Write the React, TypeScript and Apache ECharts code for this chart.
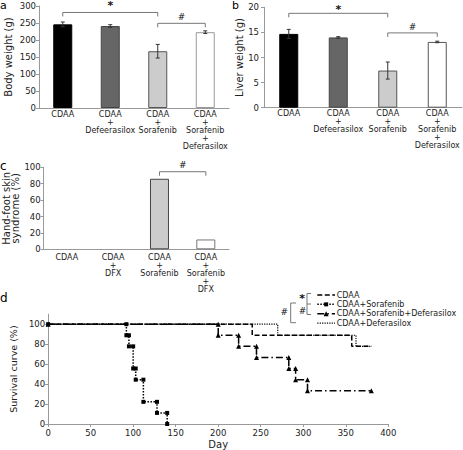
import React, { useEffect, useRef } from "react";
import * as echarts from "echarts";

// ---- data ----
const groupsAB = ["CDAA", "CDAA\n+\nDefeerasilox", "CDAA\n+\nSorafenib", "CDAA\n+\nSorafenib\n+\nDeferasilox"];
const groupsC = ["CDAA", "CDAA\n+\nDFX", "CDAA\n+\nSorafenib", "CDAA\n+\nSorafenib\n+\nDFX"];
const bodyWeight = [246, 241, 167, 223];
const bodyWeightErr = [7, 4, 20, 4];
const liverWeight = [14.7, 14.0, 7.4, 13.1];
const liverWeightErr = [0.9, 0.15, 1.7, 0.15];
const handFoot = [0, 0, 86, 12];

// survival: [day, % surviving after event]
const survCDAA = [[0, 100], [240, 88.9], [357, 77.8], [380, 77.8]];
const survSora = [[0, 100], [92, 88.9], [95, 77.8], [100, 55.6], [103, 44.4], [112, 22.2], [128, 11.1], [140, 0]];
const survSoraDFX = [[0, 100], [200, 88.9], [224, 77.8], [245, 66.7], [283, 55.6], [291, 44.4], [305, 33.3], [380, 33.3]];
const survDFX = [[0, 100], [270, 88.9], [362, 77.8], [380, 77.8]];
const survNames = ["CDAA", "CDAA+Sorafenib", "CDAA+Sorafenib+Deferasilox", "CDAA+Deferasilox"];

// significance brackets: [fromIndex, toIndex, level]
const bracketsA = [[0, 2, 281], [2, 3, 249]];
const bracketsB = [[0, 2, 18.8], [2, 3, 14.9]];
const bracketsC = [[2, 3, 94.6]];
const marksA = ["*", "#"];
const marksB = ["*", "#"];
const marksC = ["#"];

// ---- styles ----
const FONT = "DejaVu Sans";
const fills = ["#000000", "#666666", "#cccccc", "#ffffff"];
const borders = ["#000000", "#444444", "#555555", "#999999"];
const AXIS = "#999999";
const LABEL = "#222222";
const survDash: number[][] = [[5, 2.5], [1.5, 1.5], [7, 3, 1.5, 3], [1.2, 1.2]];
const survSymbol = ["none", "rect", "triangle", "none"];
const survSymSize = [0, 4, 5, 0];
const survWidth = [1.5, 1.5, 1.5, 1.2];

function toSteps(pts: number[][]) {
  const out: number[][] = [pts[0]];
  for (let i = 1; i < pts.length; i++) {
    const [t, s] = pts[i];
    const prev = pts[i - 1][1];
    if (s !== prev) out.push([t, prev]);
    out.push([t, s]);
  }
  return out;
}

function barData(vals: number[], borderOverride?: string[]) {
  const b = borderOverride || borders;
  return vals.map((v, i) => ({
    value: v,
    itemStyle: { color: fills[i], borderColor: b[i], borderWidth: v > 0 ? 1 : 0 },
  }));
}

function errSeries(xi: number, vals: number[], errs: number[]) {
  return {
    type: "custom",
    xAxisIndex: xi,
    yAxisIndex: xi,
    z: 5,
    clip: false,
    data: vals.map((v, i) => [i, v, errs[i]]),
    renderItem: (params: any, api: any) => {
      const x = api.value(0);
      const v = api.value(1);
      const e = api.value(2);
      const top = api.coord([x, v + e]);
      const bot = api.coord([x, v - e]);
      const c = 2;
      const st = { stroke: "#333", lineWidth: 1 };
      return {
        type: "group",
        children: [
          { type: "line", shape: { x1: top[0], y1: top[1], x2: bot[0], y2: bot[1] }, style: st },
          { type: "line", shape: { x1: top[0] - c, y1: top[1], x2: top[0] + c, y2: top[1] }, style: st },
          { type: "line", shape: { x1: bot[0] - c, y1: bot[1], x2: bot[0] + c, y2: bot[1] }, style: st },
        ],
      };
    },
  };
}

function bracketSeries(xi: number, br: number[][], marks: string[], gaps: number[]) {
  return {
    type: "custom",
    xAxisIndex: xi,
    yAxisIndex: xi,
    z: 6,
    clip: false,
    data: br,
    renderItem: (params: any, api: any) => {
      const i = params.dataIndex;
      const p1 = api.coord([api.value(0), api.value(2)]);
      const p2 = api.coord([api.value(1), api.value(2)]);
      const leg = 4;
      const mark = marks[i];
      return {
        type: "group",
        children: [
          {
            type: "polyline",
            shape: { points: [[p1[0], p1[1] + leg], [p1[0], p1[1]], [p2[0], p2[1]], [p2[0], p2[1] + leg]] },
            style: { stroke: "#777", fill: null, lineWidth: 1 },
          },
          {
            type: "text",
            x: (p1[0] + p2[0]) / 2,
            y: p1[1] - gaps[i],
            style: {
              text: mark,
              fill: "#111",
              fontFamily: FONT,
              fontSize: mark === "*" ? 11 : 9,
              fontWeight: mark === "*" ? "bold" : "normal",
              align: "center",
              verticalAlign: "middle",
            },
          },
        ],
      };
    },
  };
}

function catAxis(grid: number, data: string[], margin: number, lineHeight: number) {
  return {
    type: "category",
    gridIndex: grid,
    data,
    axisTick: { show: false },
    axisLine: { lineStyle: { color: AXIS } },
    axisLabel: {
      interval: 0,
      fontSize: 8,
      lineHeight,
      margin,
      color: LABEL,
      fontFamily: FONT,
    },
  };
}

function valAxis(grid: number, min: number, max: number, interval: number, name: string, nameGap: number, labelMargin: number, nameSize: number) {
  return {
    type: "value",
    gridIndex: grid,
    min,
    max,
    interval,
    name,
    nameLocation: "middle",
    nameGap,
    nameTextStyle: { fontSize: nameSize, color: LABEL, fontFamily: FONT, lineHeight: 9.5 },
    splitLine: { show: false },
    axisLine: { show: true, lineStyle: { color: AXIS } },
    axisTick: { show: true, length: 3, lineStyle: { color: AXIS } },
    axisLabel: { fontSize: 8.5, color: LABEL, margin: labelMargin, fontFamily: FONT },
  };
}

function survSeries(i: number, pts: number[][]) {
  return {
    type: "line",
    name: survNames[i],
    xAxisIndex: 3,
    yAxisIndex: 3,
    data: toSteps(pts),
    symbol: survSymbol[i],
    symbolSize: survSymSize[i],
    showAllSymbol: true,
    color: "#000",
    itemStyle: { color: "#000" },
    lineStyle: { color: "#000", width: survWidth[i], type: survDash[i] },
    clip: false,
  };
}

function legendGraphics() {
  const x0 = 317.3;
  const x1 = 335;
  const tx = 336.7;
  const y0 = 295;
  const step = 9.35;
  const out: any[] = [];
  survNames.forEach((name, i) => {
    const y = y0 + i * step;
    out.push({
      type: "line",
      shape: { x1: x0, y1: y, x2: x1, y2: y },
      style: { stroke: "#000", lineWidth: survWidth[i], lineDash: survDash[i] },
    });
    const cx = (x0 + x1) / 2;
    if (survSymbol[i] === "rect") {
      const s = survSymSize[i];
      out.push({ type: "rect", shape: { x: cx - s / 2, y: y - s / 2, width: s, height: s }, style: { fill: "#000" } });
    } else if (survSymbol[i] === "triangle") {
      const s = survSymSize[i] / 2;
      out.push({
        type: "polygon",
        shape: { points: [[cx, y - s], [cx + s, y + s], [cx - s, y + s]] },
        style: { fill: "#000" },
      });
    }
    out.push({
      type: "text",
      x: tx,
      y,
      style: { text: name, fontSize: 8, fontFamily: FONT, fill: LABEL, align: "left", verticalAlign: "middle" },
    });
  });
  return out;
}

export default function App() {
  const ref = useRef<HTMLDivElement>(null);
  useEffect(() => {
    document.body.style.margin = "0";
    if (!ref.current) return;
    const chart = echarts.init(ref.current, null, { renderer: "svg" });
    const gray = "#777";
    const option: any = {
      animation: false,
      textStyle: { fontFamily: FONT },
      grid: [
        { left: 39, top: 6, width: 190, height: 102 },
        { left: 264, top: 7.3, width: 198, height: 100.4 },
        { left: 39, top: 167.3, width: 190, height: 82 },
        { left: 40.7, top: 314.2, width: 347.6, height: 110.8 },
      ],
      xAxis: [
        catAxis(0, groupsAB, 2, 8),
        catAxis(1, groupsAB, 2, 8),
        catAxis(2, groupsC, 4, 8),
        {
          type: "value",
          gridIndex: 3,
          min: 0,
          max: 400,
          interval: 50,
          name: "Day",
          nameLocation: "middle",
          nameGap: 15,
          nameTextStyle: { fontSize: 10, color: LABEL, fontFamily: FONT },
          splitLine: { show: false },
          axisLine: { lineStyle: { color: AXIS } },
          axisTick: { show: true, length: 3, lineStyle: { color: AXIS } },
          axisLabel: { fontSize: 8.5, color: LABEL, margin: 4, fontFamily: FONT },
        },
      ],
      yAxis: [
        valAxis(0, 0, 300, 50, "Body weight (g)", 26, 3, 10),
        valAxis(1, 0, 20, 5, "Liver weight (g)", 20, 5, 10),
        valAxis(2, 0, 100, 20, "Hand-foot skin\nsyndrome (%)", 20, 3, 10),
        {
          ...valAxis(3, 0, 110, 10, "Survival curve (%)", 24, 3, 9.5),
          axisLabel: { fontSize: 8.5, color: LABEL, margin: 3, fontFamily: FONT, customValues: [0, 20, 40, 60, 80, 100] },
          axisTick: { show: true, length: 3, lineStyle: { color: AXIS }, customValues: [0, 20, 40, 60, 80, 100] },
        },
      ],
      series: [
        { type: "bar", xAxisIndex: 0, yAxisIndex: 0, barWidth: 19, data: barData(bodyWeight) },
        errSeries(0, bodyWeight, bodyWeightErr),
        bracketSeries(0, bracketsA, marksA, [6.5, 6.5]),
        {
          type: "bar",
          xAxisIndex: 1,
          yAxisIndex: 1,
          barWidth: 19,
          data: barData(liverWeight, ["#000000", "#444444", "#555555", "#555555"]),
        },
        errSeries(1, liverWeight, liverWeightErr),
        bracketSeries(1, bracketsB, marksB, [3.5, 6]),
        {
          type: "bar",
          xAxisIndex: 2,
          yAxisIndex: 2,
          barWidth: 19,
          data: barData(handFoot, ["#000000", "#444444", "#444444", "#777777"]),
        },
        bracketSeries(2, bracketsC, marksC, [6.5]),
        survSeries(0, survCDAA),
        survSeries(1, survSora),
        survSeries(2, survSoraDFX),
        survSeries(3, survDFX),
      ],
      graphic: [
        { type: "text", x: 0, y: 0, style: { text: "a", fontSize: 11, fontFamily: FONT, fill: "#000", verticalAlign: "top" } },
        { type: "text", x: 232, y: 0, style: { text: "b", fontSize: 11, fontFamily: FONT, fill: "#000", verticalAlign: "top" } },
        { type: "text", x: 0, y: 160, style: { text: "c", fontSize: 12, fontFamily: FONT, fill: "#000", verticalAlign: "top" } },
        { type: "text", x: 0, y: 291.5, style: { text: "d", fontSize: 12, fontFamily: FONT, fill: "#000", verticalAlign: "top" } },
        ...legendGraphics(),
        {
          type: "polyline",
          shape: { points: [[311, 293.5], [307, 293.5], [307, 314.5], [311, 314.5]] },
          style: { stroke: gray, fill: null, lineWidth: 1 },
        },
        { type: "line", shape: { x1: 307, y1: 304, x2: 311, y2: 304 }, style: { stroke: gray, lineWidth: 1 } },
        {
          type: "polyline",
          shape: { points: [[296, 303], [290.7, 303], [290.7, 322.7], [296, 322.7]] },
          style: { stroke: gray, fill: null, lineWidth: 1 },
        },
        { type: "text", x: 302, y: 298, style: { text: "*", fontSize: 11, fontWeight: "bold", fontFamily: FONT, fill: "#111", align: "center", verticalAlign: "middle" } },
        { type: "text", x: 302.5, y: 310.5, style: { text: "#", fontSize: 9, fontFamily: FONT, fill: "#111", align: "center", verticalAlign: "middle" } },
        { type: "text", x: 284.3, y: 312.3, style: { text: "#", fontSize: 9, fontFamily: FONT, fill: "#111", align: "center", verticalAlign: "middle" } },
      ],
    };
    chart.setOption(option);
    return () => chart.dispose();
  }, []);
  return <div ref={ref} style={{ width: 463, height: 450 }} />;
}
